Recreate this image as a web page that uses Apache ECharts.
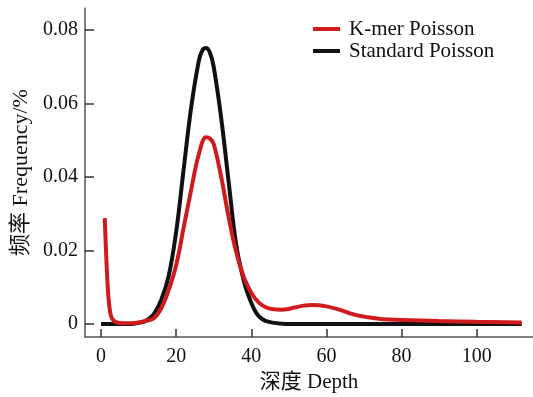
<!DOCTYPE html>
<html>
<head>
<meta charset="utf-8">
<script src="https://cdn.jsdelivr.net/npm/echarts@6/dist/echarts.min.js"></script>
<style>
html,body{margin:0;padding:0;background:#fff;}
#chart{width:533px;height:397px;}
</style>
</head>
<body>
<div id="chart"></div>
<script>
// Data
var seriesNames = ['K-mer Poisson', 'Standard Poisson'];
var xTicks = [0, 20, 40, 60, 80, 100];
var yTicks = [0, 0.02, 0.04, 0.06, 0.08];

var kmerX = [1, 1.5, 2, 2.5, 3, 4, 6, 8, 10, 12, 14, 16, 18, 20, 22, 24, 26, 28, 29, 30, 32, 34, 36, 38, 40, 42, 44, 46, 48, 50, 52, 54, 56, 58, 60, 62, 64, 66, 68, 70, 72, 75, 80, 90, 100, 112];
var kmerY = [0.0288, 0.0160, 0.0070, 0.0028, 0.0014, 0.0005, 0.0002, 0.0002, 0.0004, 0.0009, 0.0015, 0.0042, 0.0092, 0.0160, 0.0262, 0.0365, 0.0460, 0.0508, 0.0505, 0.0490, 0.0400, 0.0290, 0.0195, 0.0128, 0.0085, 0.0058, 0.0045, 0.0040, 0.0039, 0.0041, 0.0046, 0.0050, 0.0052, 0.0051, 0.0048, 0.0043, 0.0037, 0.0030, 0.0024, 0.0020, 0.0017, 0.0013, 0.0011, 0.0008, 0.0006, 0.0004];

var stdX = [0, 2, 4, 6, 8, 10, 12, 14, 16, 18, 20, 22, 24, 26, 27, 28, 29, 30, 32, 34, 36, 38, 39, 40, 41, 42, 43, 44, 46, 48, 50, 60, 70, 80, 90, 100, 112];
var stdY = [0, 0, 0, 0, 0, 0.0003, 0.0009, 0.0026, 0.0065, 0.0130, 0.0250, 0.0421, 0.0589, 0.0714, 0.0745, 0.0751, 0.0738, 0.0700, 0.0560, 0.0385, 0.0215, 0.0118, 0.0085, 0.0058, 0.0036, 0.0021, 0.0013, 0.0008, 0.0003, 0.0001, 0, 0, 0, 0, 0, 0, 0];

function pairs(xs, ys) {
  var out = [];
  for (var i = 0; i < xs.length; i++) out.push([xs[i], ys[i]]);
  return out;
}

var FONT = '"Liberation Serif", "Noto Sans CJK SC", serif';
var chart = echarts.init(document.getElementById('chart'));
chart.setOption({
  animation: false,
  backgroundColor: '#fff',
  textStyle: { fontFamily: FONT },
  grid: { left: 85, right: 0, top: 8, bottom: 60, containLabel: false, outerBoundsMode: 'none' },
  legend: {
    data: seriesNames,
    orient: 'vertical',
    left: 313,
    top: 18,
    padding: 0,
    icon: 'rect',
    itemWidth: 27,
    itemHeight: 4,
    itemGap: 0,
    textStyle: { fontFamily: FONT, fontSize: 21, color: '#111', padding: [0, 0, 0, 4], lineHeight: 22 }
  },
  xAxis: {
    type: 'value',
    min: -4.26,
    max: 115,
    name: '深度 Depth',
    nameLocation: 'middle',
    nameGap: 35,
    nameTextStyle: { fontFamily: FONT, fontSize: 21, color: '#111' },
    axisLine: { show: true, onZero: false, lineStyle: { color: '#555', width: 1.5 } },
    axisTick: { show: true, inside: true, length: 8, customValues: xTicks, lineStyle: { color: '#333', width: 1.5 } },
    axisLabel: { customValues: xTicks, fontFamily: FONT, fontSize: 20, color: '#111', margin: 10 },
    splitLine: { show: false }
  },
  yAxis: {
    type: 'value',
    min: -0.00354,
    max: 0.086,
    name: '频率 Frequency/%',
    nameLocation: 'middle',
    nameGap: 53,
    nameRotate: 90,
    nameTextStyle: { fontFamily: FONT, fontSize: 22, color: '#111' },
    axisLine: { show: true, onZero: false, lineStyle: { color: '#555', width: 1.5 } },
    axisTick: { show: true, inside: true, length: 9, customValues: yTicks, lineStyle: { color: '#333', width: 1.5 } },
    axisLabel: { customValues: yTicks, fontFamily: FONT, fontSize: 20, color: '#111', margin: 7,
      formatter: function (v) { return v === 0 ? '0' : v.toFixed(2); } },
    splitLine: { show: false }
  },
  series: [
    {
      name: seriesNames[1],
      type: 'line',
      data: pairs(stdX, stdY),
      smooth: 0.4,
      showSymbol: false,
      lineStyle: { color: '#111', width: 4 },
      itemStyle: { color: '#111' },
      z: 2
    },
    {
      name: seriesNames[0],
      type: 'line',
      data: pairs(kmerX, kmerY),
      smooth: 0.4,
      showSymbol: false,
      lineStyle: { color: '#d01b1e', width: 4 },
      itemStyle: { color: '#d01b1e' },
      z: 3
    }
  ]
});
</script>
</body>
</html>
